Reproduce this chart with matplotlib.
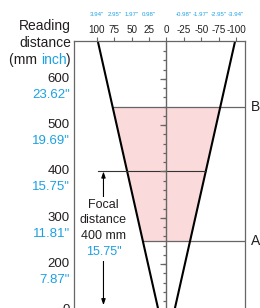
import numpy as np
import matplotlib
matplotlib.use("Agg")
import matplotlib.pyplot as plt
from matplotlib.markers import TICKLEFT

# ---- data ----
# the axis is broken below 200: the "0" label sits where 100 would be
reading_tick_pos = [600, 500, 400, 300, 200, 100]
reading_tick_text = ['600', '500', '400', '300', '200', '0']
reading_inch = ['23.62"', '19.69"', '15.75"', '11.81"', '7.87"', '']
width_ticks = [100, 75, 50, 25, 0, -25, -50, -75, -100]
width_inch = ['3.94"', '2.95"', '1.97"', '0.98"', '', '-0.98"', '-1.97"', '-2.95"', '-3.94"']
beam_dist = [100, 700]          # mm
beam_half_width = [11.5, 101.5]  # mm
range_A = 250
range_B = 540
focal = 400
center_minor = list(range(120, 680, 20))

plt.rcParams['font.family'] = ['Liberation Sans', 'DejaVu Sans']

BLUE = '#1BA1E2'
TXT = '#231F20'
PINK = '#FADADA'
GRAY = '#666666'

W, H = 260, 308
fig = plt.figure(figsize=(2.6, 3.08), dpi=100)
ax = fig.add_axes([74 / W, 0, (245 - 74) / W, 1 - 41 / H])
ax.set_xlim(133, -113)
ax.set_ylim(105, 682)

for s in ['left', 'right', 'top']:
    ax.spines[s].set_color(GRAY)
    ax.spines[s].set_linewidth(0.9)
ax.spines['bottom'].set_visible(False)

# top ticks
ax.xaxis.tick_top()
ax.set_xticks(width_ticks)
ax.set_xticklabels([str(v) for v in width_ticks], fontsize=7.1, color=TXT)
ax.tick_params(axis='x', direction='out', length=3, width=0.8, color=GRAY, pad=1.5)
ax.set_yticks([])

for v, lab in zip(width_ticks, width_inch):
    if lab:
        ax.annotate(lab, xy=(v, 1), xycoords=('data', 'axes fraction'), xytext=(0, 18.8),
                    textcoords='offset points', ha='center', va='center',
                    fontsize=4.4, color=BLUE)

# left labels
for v, t, lab in zip(reading_tick_pos, reading_tick_text, reading_inch):
    ax.annotate(t, xy=(0, v), xycoords=('axes fraction', 'data'), xytext=(-3, 0),
                textcoords='offset points', ha='right', va='center', fontsize=9.5, color=TXT,
                annotation_clip=False)
    if lab:
        ax.annotate(lab, xy=(0, v), xycoords=('axes fraction', 'data'), xytext=(-3, -11.5),
                    textcoords='offset points', ha='right', va='center', fontsize=9.5, color=BLUE,
                    annotation_clip=False)

# axis title
fs_t = 10
fig.text(71 / W, 1 - 26 / H, 'Reading', ha='right', va='center', fontsize=fs_t, color=TXT)
fig.text(71 / W, 1 - 43 / H, 'distance', ha='right', va='center', fontsize=fs_t, color=TXT)
t1 = fig.text(71 / W, 1 - 60 / H, ')', ha='right', va='center', fontsize=fs_t, color=TXT)
a2 = ax.annotate('inch', xy=(0, 0), xycoords=t1, ha='right', va='bottom', fontsize=fs_t, color=BLUE,
                 annotation_clip=False)
ax.annotate('(mm ', xy=(0, 0), xycoords=a2, ha='right', va='bottom', fontsize=fs_t, color=TXT,
            annotation_clip=False)

# beam
yy = np.array(beam_dist, dtype=float)
hw = np.array(beam_half_width, dtype=float)
ax.plot(hw, yy, color='black', lw=1.5, solid_capstyle='butt')
ax.plot(-hw, yy, color='black', lw=1.5, solid_capstyle='butt')

yf = np.array([range_A, range_B], dtype=float)
hf = np.interp(yf, yy, hw)
ax.fill_betweenx(yf, hf, -hf, color=PINK, lw=0, zorder=0)

# A, B lines
hA = np.interp(range_A, yy, hw)
hB = np.interp(range_B, yy, hw)
ax.plot([hA, -113], [range_A, range_A], color=GRAY, lw=0.9, zorder=1)
ax.plot([hB, -113], [range_B, range_B], color=GRAY, lw=0.9, zorder=1)
ax.annotate('A', xy=(1, range_A), xycoords=('axes fraction', 'data'), xytext=(4, 0),
            textcoords='offset points', ha='left', va='center', fontsize=10, color=TXT, annotation_clip=False)
ax.annotate('B', xy=(1, range_B), xycoords=('axes fraction', 'data'), xytext=(4, 0),
            textcoords='offset points', ha='left', va='center', fontsize=10, color=TXT, annotation_clip=False)

# focal line
hF = np.interp(focal, yy, hw)
ax.plot([99, -hF], [focal, focal], color='#333333', lw=0.8, zorder=2)

# center axis with ticks
ax.plot([0, 0], [105, 682], color=GRAY, lw=1.0, zorder=2)
ax.plot(np.zeros(len(center_minor)), center_minor, ls='none', marker=TICKLEFT, ms=2.3,
        mew=0.9, color=GRAY, zorder=2)
ax.plot(np.zeros(5), reading_tick_pos[:5], ls='none', marker=TICKLEFT, ms=4.5,
        mew=0.9, color=GRAY, zorder=2)

# focal distance arrow
xa = 90.6
ax.annotate('', xy=(xa, focal), xytext=(xa, 111),
            arrowprops=dict(arrowstyle='<|-|>,head_length=0.35,head_width=0.12', color='black', lw=0.8,
                            shrinkA=0, shrinkB=0))
ytext_black = [327, 295, 260]
labels_black = ['Focal', 'distance', '400 mm']
for y, lab in zip(ytext_black, labels_black):
    ax.text(xa, y, lab, ha='center', va='center', fontsize=9, color=TXT,
            bbox=dict(facecolor='white', edgecolor='none', pad=1.6))
ax.text(xa, 225, '15.75"', ha='center', va='center', fontsize=9, color=BLUE,
        bbox=dict(facecolor='white', edgecolor='none', pad=1.6))

fig.savefig('out.png', dpi=100)
